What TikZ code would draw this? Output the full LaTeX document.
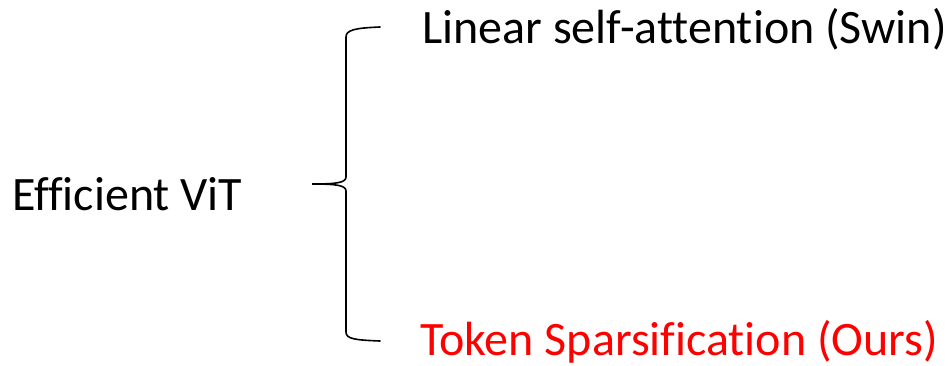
\documentclass[tikz,border=0pt]{standalone}
\usepackage{fontspec}
\setmainfont[Ligatures=NoCommon]{Carlito}
\begin{document}
\begin{tikzpicture}[x=1pt,y=-1pt,
  lbl/.style={inner sep=0pt,anchor=base west,font=\fontsize{48}{58}\selectfont},
  brace/.style={draw=black,line width=1.6pt,line cap=round}]
\useasboundingbox (0,0) rectangle (951,365);
% labels
\node[lbl] (root) at (12,210) {Efficient ViT};
\node[lbl] (swin) at (422,43) {Linear self-attention (Swin)};
\node[lbl,text=red] (ours) at (420,355) {Token Sparsification (Ours)};
% curly brace
\coordinate (top) at (380,27);
\coordinate (tip) at (312,184);
\coordinate (bot) at (380,341);
\draw[brace] (top) .. controls (355,28) and (346,30) .. (346,37)
  -- (346,177) .. controls (346,183) and (335,184) .. (tip)
  .. controls (335,184) and (346,185) .. (346,191)
  -- (346,332) .. controls (346,339) and (355,340) .. (bot);
\end{tikzpicture}
\end{document}
